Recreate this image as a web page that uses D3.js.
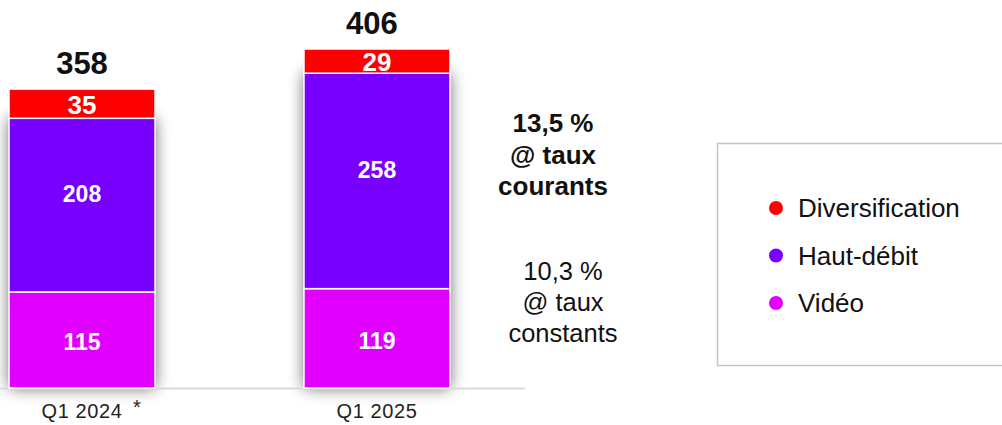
<!DOCTYPE html>
<html>
<head>
<meta charset="utf-8">
<script src="https://cdn.jsdelivr.net/npm/d3@7"></script>
<style>
  body { margin: 0; background: #fff; }
  svg { display: block; font-family: "Liberation Sans", Arial, sans-serif; }
</style>
</head>
<body>
<svg id="chart"></svg>
<script>
const width = 1002, height = 425;

// data
const quarters = ['Q1 2024', 'Q1 2025'];
const segments = ['Vidéo', 'Haut-débit', 'Diversification'];
const video = [115, 119];
const hautDebit = [208, 258];
const diversification = [35, 29];
const totals = [358, 406];
const growthCurrent = ['13,5 %', '@ taux', 'courants'];
const growthConstant = ['10,3 %', '@ taux', 'constants'];
const legendOrder = ['Diversification', 'Haut-débit', 'Vidéo'];

const colors = {
    'Diversification': '#ff0000',
    'Haut-débit': '#7700ff',
    'Vidéo': '#e100ff'
};

const svg = d3.select("#chart")
    .attr("width", width)
    .attr("height", height);

// shadow behind bars
const defs = svg.append("defs");
const f = defs.append("filter").attr("id", "shadow")
    .attr("x", "-40%").attr("y", "-20%").attr("width", "180%").attr("height", "140%");
f.append("feGaussianBlur").attr("in", "SourceAlpha").attr("stdDeviation", 8).attr("result", "blur");
f.append("feComponentTransfer").attr("in", "blur").attr("result", "soft")
    .append("feFuncA").attr("type", "linear").attr("slope", 0.6);
const merge = f.append("feMerge");
merge.append("feMergeNode").attr("in", "soft");

const x = d3.scaleBand()
    .domain(quarters)
    .range([9, 450])
    .paddingInner(0.505)
    .paddingOuter(0);

const y = d3.scaleLinear()
    .domain([0, 406])
    .range([388, 49]);

const table = quarters.map((q, i) => ({
    quarter: q,
    'Vidéo': video[i],
    'Haut-débit': hautDebit[i],
    'Diversification': diversification[i],
    total: totals[i]
}));

const series = d3.stack().keys(segments)(table);

// shadow layer under purple + magenta
svg.append("g").attr("filter", "url(#shadow)")
    .selectAll("rect")
    .data(table)
    .enter()
    .append("rect")
    .attr("x", d => x(d.quarter))
    .attr("width", x.bandwidth())
    .attr("y", d => y(d['Vidéo'] + d['Haut-débit']))
    .attr("height", d => y(0) - y(d['Vidéo'] + d['Haut-débit']))
    .attr("fill", "#000");

// axis line
svg.append("line")
    .attr("x1", 0).attr("x2", 525)
    .attr("y1", 388.5).attr("y2", 388.5)
    .attr("stroke", "#d9d9d9")
    .attr("stroke-width", 2);

const layers = svg.selectAll(".layer")
    .data(series)
    .enter()
    .append("g")
    .attr("class", "layer")
    .attr("fill", d => colors[d.key]);

layers.selectAll("rect")
    .data(d => d)
    .enter()
    .append("rect")
    .attr("x", d => x(d.data.quarter))
    .attr("width", x.bandwidth())
    .attr("y", d => y(d[1]))
    .attr("height", d => y(d[0]) - y(d[1]))
    .attr("stroke", "#fff")
    .attr("stroke-width", 1.5);

// segment labels
const labelShift = {'Vidéo': 2, 'Haut-débit': -11, 'Diversification': 1};
layers.selectAll("text")
    .data(d => d.map(v => ({v, key: d.key})))
    .enter()
    .append("text")
    .attr("x", d => x(d.v.data.quarter) + x.bandwidth() / 2)
    .attr("y", d => (y(d.v[0]) + y(d.v[1])) / 2 + labelShift[d.key])
    .attr("dy", "0.36em")
    .attr("text-anchor", "middle")
    .attr("fill", "#fff")
    .attr("font-weight", "bold")
    .attr("font-size", d => d.key === 'Diversification' ? "26px" : "23px")
    .text(d => d.v[1] - d.v[0]);

// totals
svg.selectAll(".total")
    .data(table)
    .enter()
    .append("text")
    .attr("class", "total")
    .attr("x", (d, i) => x(d.quarter) + x.bandwidth() / 2 - i * 5)
    .attr("y", d => y(d.total) - 15)
    .attr("text-anchor", "middle")
    .attr("font-weight", "bold")
    .attr("font-size", "31px")
    .attr("fill", "#111")
    .text(d => d.total);

// x labels
svg.selectAll(".xlabel")
    .data(quarters)
    .enter()
    .append("text")
    .attr("class", "xlabel")
    .attr("x", d => x(d) + x.bandwidth() / 2)
    .attr("y", 418)
    .attr("text-anchor", "middle")
    .attr("font-size", "20px")
    .attr("letter-spacing", "0.6px")
    .attr("fill", "#222")
    .text(d => d);

svg.append("text")
    .attr("x", 137).attr("y", 414)
    .attr("text-anchor", "middle")
    .attr("font-size", "20px")
    .attr("fill", "#222")
    .text("*");

// growth annotations
svg.append("text")
    .attr("text-anchor", "middle")
    .attr("font-weight", "bold")
    .attr("font-size", "26px")
    .attr("fill", "#111")
    .selectAll("tspan")
    .data(growthCurrent)
    .enter()
    .append("tspan")
    .attr("x", 553)
    .attr("y", (d, i) => 132 + i * 31.5)
    .text(d => d);

svg.append("text")
    .attr("text-anchor", "middle")
    .attr("font-size", "25.5px")
    .attr("fill", "#111")
    .selectAll("tspan")
    .data(growthConstant)
    .enter()
    .append("tspan")
    .attr("x", 563)
    .attr("y", (d, i) => 280 + i * 31)
    .text(d => d);

// legend
svg.append("rect")
    .attr("x", 717.5).attr("y", 143.5)
    .attr("width", 300).attr("height", 222)
    .attr("fill", "#fff")
    .attr("stroke", "#c4c4c4")
    .attr("stroke-width", 1.5);

const legend = svg.selectAll(".legend-item")
    .data(legendOrder)
    .enter()
    .append("g")
    .attr("class", "legend-item")
    .attr("transform", (d, i) => `translate(776, ${208 + i * 47.5})`);

legend.append("circle")
    .attr("r", 7)
    .attr("fill", d => colors[d]);

legend.append("text")
    .attr("x", 22)
    .attr("dy", "0.36em")
    .attr("font-size", "26px")
    .attr("fill", "#111")
    .text(d => d);
</script>
</body>
</html>
